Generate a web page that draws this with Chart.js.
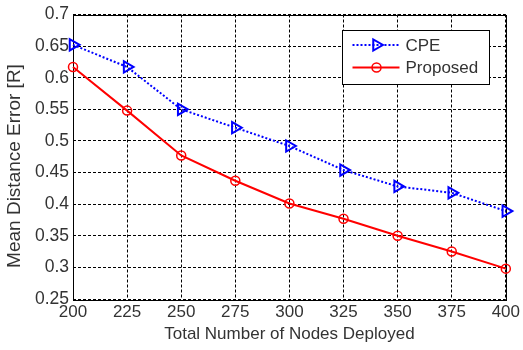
<!DOCTYPE html>
<html>
<head>
<meta charset="utf-8">
<script src="https://cdn.jsdelivr.net/npm/chart.js@4/dist/chart.umd.min.js"></script>
<style>
    html, body { margin: 0; padding: 0; background: #fff; }
    #wrap { width: 523px; height: 350px; position: relative; }
</style>
</head>
<body>
<div id="wrap"><canvas id="errChart"></canvas></div>
<script>
// ========== DATA ==========
const nodeCounts = ['200', '225', '250', '275', '300', '325', '350', '375', '400'];
const cpeError = [0.652, 0.617, 0.550, 0.521, 0.492, 0.454, 0.428, 0.418, 0.389];
const proposedError = [0.617, 0.548, 0.477, 0.437, 0.401, 0.377, 0.350, 0.325, 0.298];
const yTicks = [0.25, 0.3, 0.35, 0.4, 0.45, 0.5, 0.55, 0.6, 0.65, 0.7];

const seriesNames = ['CPE', 'Proposed'];
const textColor = '#333';
const fontFamily = '"Liberation Sans", Arial, sans-serif';

// ========== PLUGINS ==========
// solid box round the plot, drawn over the dashed grid
const boxPlugin = {
    id: 'box',
    beforeDatasetsDraw(chart) {
        const { ctx, chartArea: a } = chart;
        ctx.save();
        ctx.strokeStyle = '#000';
        ctx.lineWidth = 1;
        ctx.strokeRect(Math.round(a.left) + 0.5, Math.round(a.top) + 0.5,
            Math.round(a.right - a.left), Math.round(a.bottom - a.top));
        ctx.restore();
    }
};

function drawMarker(ctx, ds, x, y) {
    const r = ds.pointRadius;
    ctx.beginPath();
    if (ds.pointStyle === 'triangle') {
        ctx.moveTo(x + r, y);
        ctx.lineTo(x - r / 2, y + r * Math.sqrt(3) / 2);
        ctx.lineTo(x - r / 2, y - r * Math.sqrt(3) / 2);
        ctx.closePath();
    } else {
        ctx.arc(x, y, r, 0, Math.PI * 2);
    }
    ctx.setLineDash([]);
    ctx.lineWidth = ds.pointBorderWidth;
    ctx.strokeStyle = ds.borderColor;
    ctx.stroke();
}

// matlab style legend box in the top right corner, plus y title
const legendPlugin = {
    id: 'matlabLegend',
    afterDraw(chart) {
        const { ctx, chartArea: a } = chart;
        const boxW = 147, boxH = 54;
        const left = Math.round(a.right - 17 - boxW) + 0.5;
        const top = Math.round(a.top + 15) + 0.5;

        ctx.save();
        ctx.fillStyle = '#fff';
        ctx.fillRect(left, top, boxW, boxH);
        ctx.strokeStyle = '#000';
        ctx.lineWidth = 1;
        ctx.setLineDash([]);
        ctx.strokeRect(left, top, boxW, boxH);

        chart.data.datasets.forEach((ds, i) => {
            const y = top + 14.5 + i * 22.5;
            ctx.beginPath();
            ctx.setLineDash(ds.borderDash || []);
            ctx.lineWidth = ds.borderWidth;
            ctx.strokeStyle = ds.borderColor;
            ctx.moveTo(left + 10, y);
            ctx.lineTo(left + 57, y);
            ctx.stroke();
            drawMarker(ctx, ds, left + 34, y);

            ctx.fillStyle = textColor;
            ctx.font = '17px ' + fontFamily;
            ctx.textBaseline = 'middle';
            ctx.textAlign = 'left';
            ctx.fillText(ds.label, left + 63, y + 1);
        });

        // y axis title
        ctx.translate(15, 166);
        ctx.rotate(-Math.PI / 2);
        ctx.fillStyle = textColor;
        ctx.font = '19px ' + fontFamily;
        ctx.textAlign = 'center';
        ctx.textBaseline = 'middle';
        ctx.fillText('Mean Distance Error [R]', 0, 0);
        ctx.restore();
    }
};

// ========== CHART ==========
const ctx = document.getElementById('errChart').getContext('2d');
new Chart(ctx, {
    type: 'line',
    data: {
        labels: nodeCounts,
        datasets: [{
            label: seriesNames[0],
            data: cpeError,
            borderColor: '#0000ff',
            borderWidth: 2,
            borderDash: [2, 2],
            pointStyle: 'triangle',
            pointRotation: 90,
            pointRadius: 6.5,
            pointBorderWidth: 2,
            pointBackgroundColor: 'rgba(0,0,0,0)',
            pointBorderColor: '#0000ff',
            tension: 0,
            clip: false
        }, {
            label: seriesNames[1],
            data: proposedError,
            borderColor: '#ff0000',
            borderWidth: 2,
            pointStyle: 'circle',
            pointRadius: 4.5,
            pointBorderWidth: 1.5,
            pointBackgroundColor: 'rgba(0,0,0,0)',
            pointBorderColor: '#ff0000',
            tension: 0,
            clip: false
        }]
    },
    options: {
        responsive: true,
        maintainAspectRatio: false,
        animation: false,
        layout: { padding: { top: 13, right: 14, left: 0, bottom: 0 } },
        plugins: {
            legend: { display: false },
            tooltip: { enabled: false }
        },
        scales: {
            x: {
                offset: false,
                afterFit: s => { s.height = 51; },
                grid: { color: '#000', lineWidth: 1, drawTicks: false },
                border: { display: false, dash: [3, 2] },
                ticks: {
                    color: textColor,
                    padding: 3,
                    maxRotation: 0,
                    autoSkip: false,
                    font: { family: fontFamily, size: 17 }
                },
                title: {
                    display: true,
                    text: 'Total Number of Nodes Deployed',
                    color: textColor,
                    padding: { top: 0, bottom: 5 },
                    font: { family: fontFamily, size: 17 }
                }
            },
            y: {
                min: 0.25,
                max: 0.7,
                afterFit: s => { s.width = 73; },
                afterBuildTicks: s => { s.ticks = yTicks.map(v => ({ value: v })); },
                grid: { color: '#000', lineWidth: 1, drawTicks: false },
                border: { display: false, dash: [3, 2] },
                ticks: {
                    color: textColor,
                    padding: 4,
                    font: { family: fontFamily, size: 17.5 },
                    callback: v => parseFloat(v.toFixed(2)).toString()
                }
            }
        }
    },
    plugins: [boxPlugin, legendPlugin]
});
</script>
</body>
</html>
